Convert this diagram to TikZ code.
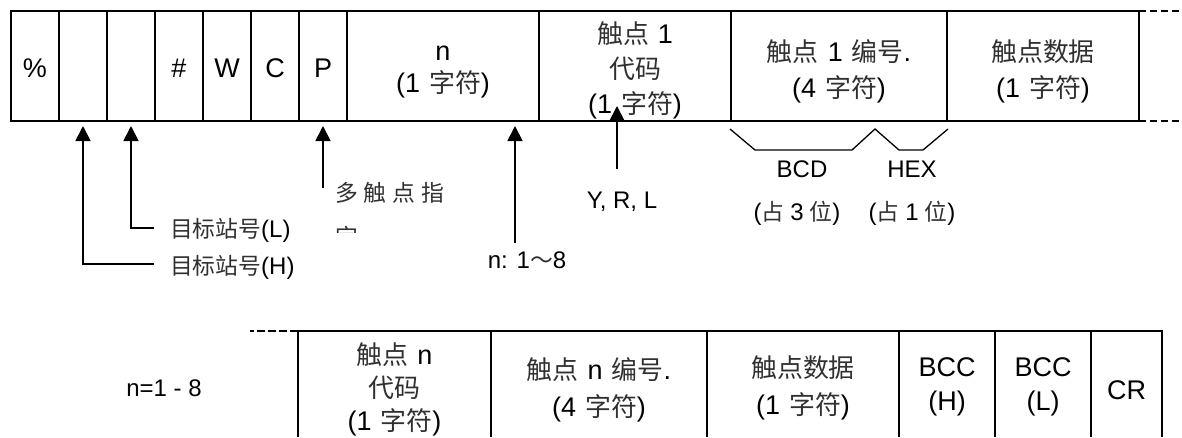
\documentclass[tikz,border=0pt]{standalone}
\usepackage{fontspec}
\setmainfont{Liberation Sans}
\newfontfamily\cjkf{Noto Sans CJK SC}[Scale=0.96]
\newfontfamily\cjks{Noto Sans CJK SC}[Scale=0.95]
\usetikzlibrary{arrows.meta}
\definecolor{cjkgray}{HTML}{303030}
\newcommand{\C}[1]{{\cjkf\color{cjkgray}#1}}
\newcommand{\Cs}[1]{{\cjks\color{cjkgray}#1}}
\newcommand{\ks}{\hspace{9pt}}
\newcommand{\kl}{\hspace{6pt}}
\tikzset{
  cell/.style={draw, line width=2.2pt, inner sep=0pt, outer sep=0pt, minimum height=110pt},
  bcell/.style={inner sep=0pt, outer sep=0pt, minimum height=106pt},
  txt/.style={inner sep=0pt, outer sep=0pt, align=center, font=\fontsize{27}{35}\selectfont},
  boxline/.style={line width=2.2pt},
  lbl/.style={inner sep=0pt, outer sep=0pt, align=center, font=\fontsize{24}{30}\selectfont},
  arr/.style={line width=1.8pt, -{Triangle[width=15pt,length=15pt]}},
  brace/.style={line width=1.3pt},
  dashline/.style={line width=2.2pt, dash pattern=on 7pt off 4pt},
  dashline2/.style={line width=2.6pt, dash pattern=on 8pt off 3pt}
}
\begin{document}
\begin{tikzpicture}[x=1pt,y=-1pt]
\useasboundingbox (0,0) rectangle (1182,437);
% top row cells
\node[cell, minimum width=48pt] (c1) at (35,66) {};
\node[cell, minimum width=48pt] (c2) at (83,66) {};
\node[cell, minimum width=48pt] (c3) at (131,66) {};
\node[cell, minimum width=48pt] (c4) at (179,66) {};
\node[cell, minimum width=48pt] (c5) at (227,66) {};
\node[cell, minimum width=48pt] (c6) at (275,66) {};
\node[cell, minimum width=48pt] (c7) at (323,66) {};
\node[cell, minimum width=192pt] (c8) at (443,66) {};
\node[cell, minimum width=192pt] (c9) at (635,66) {};
\node[cell, minimum width=216pt] (c10) at (839,66) {};
\node[cell, minimum width=192pt] (c11) at (1043,66) {};
\draw[dashline] (c11.north east) -- ++(43,0);
\draw[dashline] (c11.south east) -- ++(43,0);
% top row texts
\node[txt] (t1) at (35,68) {\%};
\node[txt] (t4) at (179,68) {\#};
\node[txt] (t5) at (227,68) {W};
\node[txt] (t6) at (275,68) {C};
\node[txt] (t7) at (323,68) {P};
\node[txt, font=\fontsize{27}{32}\selectfont] (t8) at (443,72) {n\\(1\ks\C{字符})};
\node[txt] (t9) at (635,70) {\C{触点}\ks 1\\\C{代码}\\(1\ks\C{字符})};
\node[txt, font=\fontsize{27}{36}\selectfont] (t10) at (839,71) {\C{触点}\ks 1\ks\C{编号}.\\(4\ks\C{字符})};
\node[txt, font=\fontsize{27}{36}\selectfont] (t11) at (1043,71) {\C{触点数据}\\(1\ks\C{字符})};

% labels
\node[lbl, anchor=west] (lL) at (170,230) {\Cs{目标站号}(L)};
\node[lbl, anchor=west] (lH) at (170,267) {\Cs{目标站号}(H)};
\node[lbl, anchor=west] (lP) at (335,193) {\Cs{多}\kl\Cs{触}\kl\Cs{点}\kl\Cs{指}};
\begin{scope}
  \clip (330,221) rectangle (470,232.5);
  \node[lbl, anchor=west] (lP2) at (335,237) {\Cs{定}};
\end{scope}
\node[lbl] (lN) at (527,260) {n: 1\Cs{～}8};
\node[lbl] (lY) at (622,202) {Y, R, L};
\node[lbl] (lBCD) at (802,169) {BCD};
\node[lbl] (lHEX) at (912,169) {HEX};
\node[lbl] (lB3) at (797,213) {(\Cs{占}\kl 3\kl\Cs{位})};
\node[lbl] (lB1) at (912,213) {(\Cs{占}\kl 1\kl\Cs{位})};
\node[lbl] (lNN) at (164,388) {n=1 - 8};

% arrows
\coordinate (hH) at (154,264);
\coordinate (hL) at (154,228);
\coordinate (pB) at (323,188);
\coordinate (nB) at (515,243);
\coordinate (yB) at (617,169);
\coordinate (yT) at (617,106);
\draw[arr, shorten >=5pt] (hH) -| (c2.south);
\draw[arr, shorten >=5pt] (hL) -| (c3.south);
\draw[arr, shorten >=5pt] (pB) -- (pB |- c7.south);
\draw[arr, shorten >=5pt] (nB) -- (nB |- c8.south);
\draw[arr] (yB) -- (yT);

% brace
\draw[brace] (730,129) -- (755,150) -- (852,150) -- (875,129) -- (899,150) -- (923,150) -- (948,129);

% bottom row cells
\node[bcell, minimum width=193pt] (b1) at (394.5,384) {};
\node[bcell, minimum width=216pt] (b2) at (599,384) {};
\node[bcell, minimum width=192pt] (b3) at (803,384) {};
\node[bcell, minimum width=96pt] (b4) at (947,384) {};
\node[bcell, minimum width=96pt] (b5) at (1043,384) {};
\node[bcell, minimum width=71pt] (b6) at (1126.5,384) {};
\foreach \b in {b1,b2,b3,b4,b5,b6}{
  \draw[boxline] (\b.south west) -- (\b.north west) -- (\b.north east) -- (\b.south east);
}
\draw[dashline2] (b1.north west) -- ++(-48,0);
% bottom row texts
\node[txt, font=\fontsize{27}{33}\selectfont] (s1) at (394.5,389) {\C{触点}\ks n\\\C{代码}\\(1\ks\C{字符})};
\node[txt, font=\fontsize{27}{37}\selectfont] (s2) at (599,390) {\C{触点}\ks n\ks\C{编号}.\\(4\ks\C{字符})};
\node[txt, font=\fontsize{27}{37}\selectfont] (s3) at (803,388) {\C{触点数据}\\(1\ks\C{字符})};
\node[txt, font=\fontsize{27}{34}\selectfont] (s4) at (947,387) {BCC\\(H)};
\node[txt, font=\fontsize{27}{34}\selectfont] (s5) at (1043,387) {BCC\\(L)};
\node[txt] (s6) at (1126.5,390) {CR};
\end{tikzpicture}
\end{document}
